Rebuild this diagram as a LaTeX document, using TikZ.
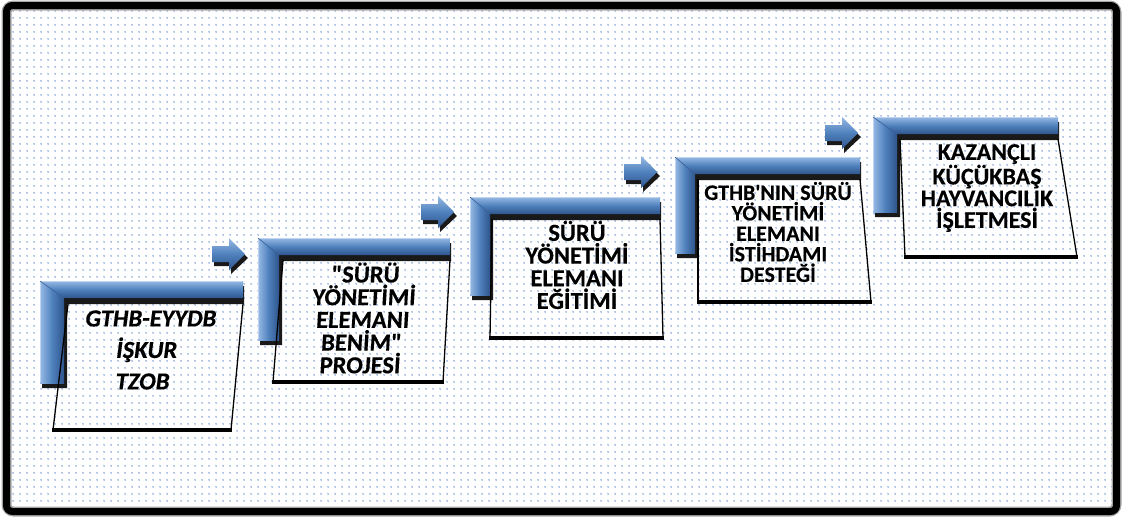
\documentclass[tikz,border=0pt]{standalone}
\usepackage{fontspec}
\setmainfont{Carlito}[Ligatures=TeXOff, BoldFeatures={FakeBold=0.3}]
\usetikzlibrary{patterns.meta}
\definecolor{barblue}{RGB}{79,129,189}
\definecolor{barlight}{RGB}{150,185,228}
\definecolor{bardark}{RGB}{47,84,140}
\definecolor{dotblue}{RGB}{105,145,205}
\tikzset{
  steptext/.style={font=\bfseries\fontsize{24.5}{22.7}\selectfont, align=center, inner sep=0pt, text=black},
  boxside/.style={draw=black, line width=1.3pt},
  boxbottom/.style={draw=black, line width=4pt},
  hshade/.style={top color=barlight, bottom color=bardark, middle color=barblue},
  vshade/.style={left color=barlight, right color=bardark, middle color=barblue},
}
% #1 x0, #2 top, #3 right end, #4 bottom of vertical, #5 vertical width
\newcommand\stepbar[5]{%
  \fill[black!90] ({#1+3},{#2+5}) -- ({#3+1},{#2+5}) -- ({#3+1},{#2+23}) -- ({#1+#5+3},{#2+23})
     -- ({#1+#5+3},{#4+5}) -- ({#1+2},{#4+5}) -- cycle;
  \shade[vshade] (#1,#2) rectangle ({#1+#5},#4);
  \shade[hshade] (#1,#2) -- (#3,#2) -- (#3,{#2+17}) -- ({#1+#5},{#2+17}) -- cycle;
  \draw[barlight!60!white, line width=0.8pt] ({#1+0.5},{#4-1}) -- ({#1+0.5},{#2+0.5}) -- ({#3-1},{#2+0.5});
  \draw[bardark!70!barblue, line width=0.6pt] (#1,#2) -- ({#1+#5},{#2+17});
}
% #1 left x, #2 centre y
\newcommand\steparrow[2]{%
  \fill[black!90] ({#1+2},{#2-4}) -- ({#1+19},{#2-4}) -- ({#1+19},{#2-12}) -- ({#1+36},{#2+4})
     -- ({#1+19},{#2+20}) -- ({#1+19},{#2+12}) -- ({#1+2},{#2+12}) -- cycle;
  \shade[hshade] (#1,{#2-8}) -- ({#1+17},{#2-8}) -- ({#1+17},{#2-16}) -- ({#1+33},#2)
     -- ({#1+17},{#2+16}) -- ({#1+17},{#2+8}) -- (#1,{#2+8}) -- cycle;
}
\begin{document}
\begin{tikzpicture}[x=1pt,y=-1pt]
\useasboundingbox (0,0) rectangle (1123,520);
% background
\fill[white] (0,0) rectangle (1123,520);
\fill[pattern={Dots[distance=6.5pt,radius=0.85pt]}, pattern color=dotblue] (8,8) rectangle (1115,510);
% frame
\draw[black!35, line width=10pt, rounded corners=7pt] (6.5,5.5) rectangle (1116.5,511.5);
\draw[black, line width=7pt, rounded corners=6pt] (6.5,5.5) rectangle (1116.5,511.5);

% ---- step 1
\stepbar{40}{281}{243}{383}{24}
\draw[boxside] (68,304) -- (53,430);
\draw[boxside] (243,304) -- (231,430);
\draw[boxbottom] (52,430) -- (232,430);
\node[steptext, font=\bfseries\fontsize{24.5}{31.5}\selectfont, xslant=0.13, transform shape] (t1) at (147,350)
  {GTHB-EYYDB\\İŞKUR\\TZOB};

% ---- step 2
\steparrow{212}{254}
\stepbar{258}{238}{450}{340}{21}
\draw[boxside] (283,260) -- (273,382);
\draw[boxside] (450,260) -- (443,382);
\draw[boxbottom] (272,382) -- (444,382);
\node[steptext, xslant=0.06, transform shape] (t2) at (363,318)
  {"SÜRÜ\\YÖNETİMİ\\ELEMANI\\BENİM"\\PROJESİ};

% ---- step 3
\steparrow{421}{212}
\stepbar{470}{197}{660}{295}{20}
\draw[boxside] (492,219) -- (490,338);
\draw[boxside] (660,219) -- (663,338);
\draw[boxbottom] (489,338) -- (664,338);
\node[steptext] (t3) at (577,265)
  {SÜRÜ\\YÖNETİMİ\\ELEMANI\\EĞİTİMİ};

% ---- step 4
\steparrow{624}{172}
\stepbar{675}{157}{860}{253}{20}
\draw[boxside] (698,179) -- (698,302);
\draw[boxside] (860,179) -- (871,302);
\draw[boxbottom] (697,302) -- (872,302);
\node[steptext, font=\bfseries\fontsize{22}{20.5}\selectfont] (t4) at (778,232)
  {GTHB'NIN SÜRÜ\\YÖNETİMİ\\ELEMANI\\İSTİHDAMI\\DESTEĞİ};

% ---- step 5
\steparrow{825}{133}
\stepbar{873}{117}{1058}{212}{24}
\draw[boxside] (900,139) -- (905,257);
\draw[boxside] (1058,139) -- (1077,257);
\draw[boxbottom] (904,257) -- (1078,257);
\node[steptext, font=\bfseries\fontsize{24}{21.7}\selectfont] (t5) at (987,188)
  {KAZANÇLI\\KÜÇÜKBAŞ\\HAYVANCILIK\\İŞLETMESİ};
\end{tikzpicture}
\end{document}
